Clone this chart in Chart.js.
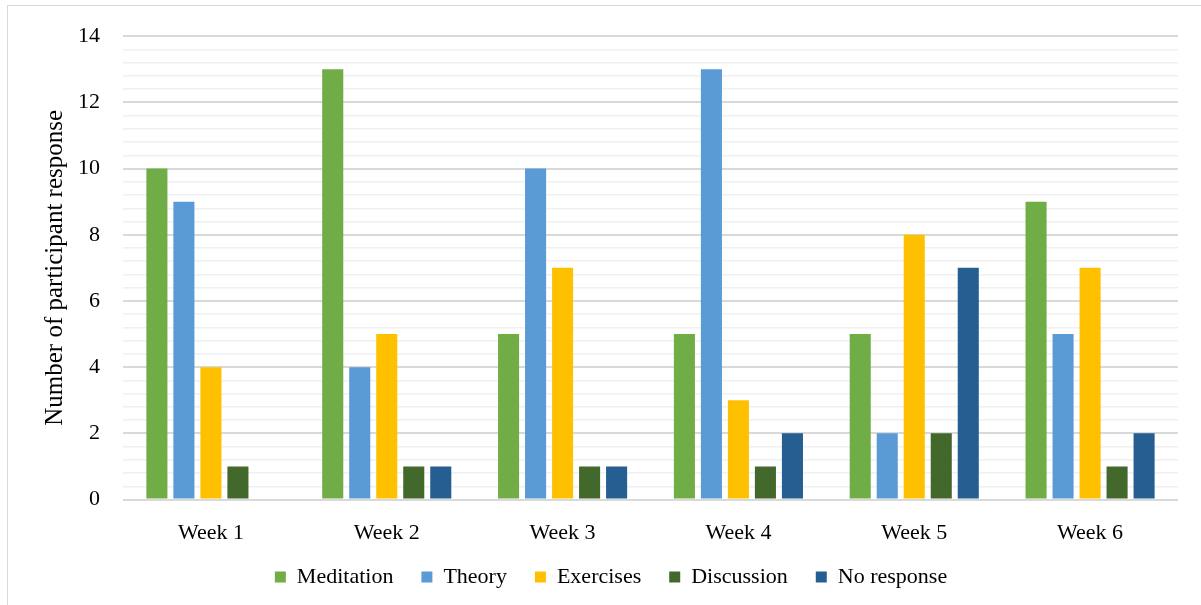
<!DOCTYPE html>
<html>
<head>
<meta charset="utf-8">
<script src="https://cdn.jsdelivr.net/npm/chart.js@4/dist/chart.umd.min.js"></script>
<style>
  html, body { margin: 0; padding: 0; background: #fff; overflow: hidden; }
  #frame { position: absolute; left: 7px; top: 5px; width: 1210px; height: 620px;
           border: 1.5px solid #d9d9d9; box-sizing: border-box; }
  #wrap { position: absolute; left: 0; top: 0; width: 1201px; height: 605px; }
</style>
</head>
<body>
<div id="frame"></div>
<div id="wrap"><canvas id="chart" width="1201" height="605"></canvas></div>
<script>
// Weekly counts of participant responses by session component
const weeks = ['Week 1', 'Week 2', 'Week 3', 'Week 4', 'Week 5', 'Week 6'];
const meditation = [10, 13, 5, 5, 5, 9];
const theory     = [9, 4, 10, 13, 2, 5];
const exercises  = [4, 5, 7, 3, 8, 7];
const discussion = [1, 1, 1, 1, 2, 1];
const noResponse = [0, 1, 1, 2, 7, 2];

const seriesNames  = ['Meditation', 'Theory', 'Exercises', 'Discussion', 'No response'];
const seriesValues = [meditation, theory, exercises, discussion, noResponse];
const seriesColors = ['#70AD47', '#5B9BD5', '#FFC000', '#43682B', '#255E91'];

const yMin = 0, yMax = 14, yLabelStep = 2, yMinorStep = 0.4;

const isLabelled = v => Math.abs(v / yLabelStep - Math.round(v / yLabelStep)) < 1e-6;

Chart.defaults.font.family = "'Liberation Serif', 'Times New Roman', serif";
Chart.defaults.color = '#000';

// Nudges the legend row so it sits centred under the axis labels
const legendPlacement = {
  id: 'legendPlacement',
  afterLayout(chart) {
    const lg = chart.legend;
    if (!lg) return;
    lg.left += 18; lg.right += 18;
    lg.top -= 7; lg.bottom -= 7;
  }
};

new Chart(document.getElementById('chart'), {
  type: 'bar',
  data: {
    labels: weeks,
    datasets: seriesNames.map((name, i) => ({
      label: name,
      data: seriesValues[i],
      backgroundColor: seriesColors[i],
      borderWidth: 0,
      barPercentage: 0.78,
      categoryPercentage: 0.768
    }))
  },
  options: {
    responsive: false,
    animation: false,
    layout: { padding: { left: 8, right: 23, top: 34, bottom: 0 } },
    plugins: {
      tooltip: { enabled: false },
      legend: {
        position: 'bottom',
        labels: {
          boxWidth: 11,
          boxHeight: 11,
          padding: 28,
          font: { size: 22 },
          color: '#000'
        }
      }
    },
    scales: {
      x: {
        grid: { display: false },
        border: { display: false },
        ticks: { font: { size: 22 }, padding: 13, color: '#000' },
        afterFit(scale) { scale.height = 45.5; }
      },
      y: {
        min: yMin,
        max: yMax,
        border: { display: false },
        grid: {
          drawTicks: false,
          color: ctx => isLabelled(ctx.tick.value) ? '#d9d9d9' : '#f0f0f0',
          lineWidth: ctx => isLabelled(ctx.tick.value) ? 2 : 1.5
        },
        ticks: {
          stepSize: yMinorStep,
          autoSkip: false,
          padding: 23,
          font: { size: 22 },
          color: '#000',
          callback: v => isLabelled(v) ? String(Math.round(v)) : ''
        },
        title: {
          display: true,
          text: 'Number of participant response',
          font: { size: 25 },
          color: '#000',
          padding: { top: 32, bottom: 0 }
        },
        afterFit(scale) { scale.width = 115; }
      }
    }
  },
  plugins: [legendPlacement]
});
</script>
</body>
</html>
